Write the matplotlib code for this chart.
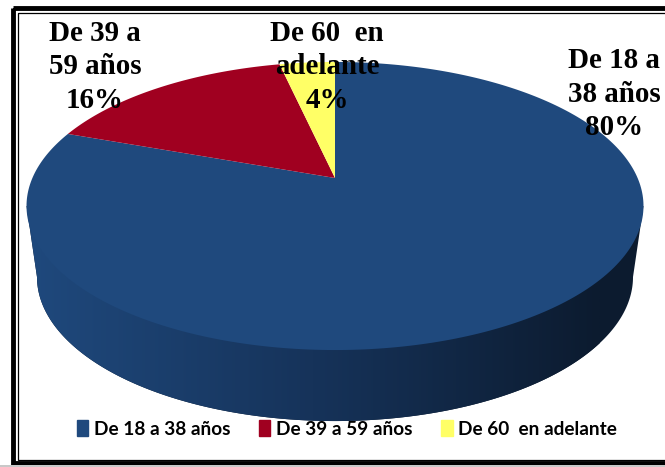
import numpy as np
import matplotlib
matplotlib.use("Agg")
import matplotlib.pyplot as plt
from matplotlib.colors import LinearSegmentedColormap
from matplotlib.patches import Patch, Polygon, Rectangle

categorias = ["De 18 a 38 años", "De 39 a 59 años", "De 60  en adelante"]
porcentajes = [80.5, 16, 3.5]
colores = ["#1f497d", "#a00020", "#ffff66"]
etiquetas = ["De 18 a\n38 años\n80%", "De 39 a\n59 años\n16%", "De 60  en\nadelante\n4%"]
pos_etiquetas = [(614, 94), (95, 67), (327, 67)]

CX, CY = 335, 178
RX, RY, K = 302.6, 138.6, 0.1944
ALTO = 71
ESCALA_BASE = 0.966


def proyectar(t, escala=1.0, dy=0):
    # t en radianes, sentido horario desde arriba, con algo de perspectiva
    u = np.sin(t)
    v = np.cos(t)
    s = 1 / (1 + K * v)
    return CX + RX * escala * u * s, CY + dy - RY * v * s


def dibujar_marco(ax):
    ax.add_patch(Rectangle((13, 8), 670, 455, fill=False, ec="black", lw=3.5, zorder=1))
    ax.add_patch(Rectangle((17.5, 12.5), 670, 447, fill=False, ec="black", lw=0.9, zorder=1))
    ax.add_patch(Rectangle((0, 465), 665, 2, fc="#c8c8c8", ec="none", zorder=1))


def dibujar_pared(ax):
    # el punto mas ancho del borde, ahi baja la pared
    t_ext = np.arccos(-K)
    t_base = np.linspace(t_ext, 2 * np.pi - t_ext, 300)
    x, y = proyectar(t_base, ESCALA_BASE, ALTO)
    xd, yd = proyectar(t_ext)
    xi, yi = proyectar(2 * np.pi - t_ext)
    borde = np.column_stack([np.r_[xd, x, xi], np.r_[yd, y, yi]])
    fondo = Polygon(borde, closed=True, fc="#0c1b2f", ec="none", zorder=1.5)
    ax.add_patch(fondo)
    cmap = LinearSegmentedColormap.from_list("pared", ["#1f497d", "#16335a", "#0c1b2f"])
    img = ax.imshow(np.linspace(0, 1, 256).reshape(1, -1), cmap=cmap, aspect="auto",
                    extent=(27, 600, 440, 190), zorder=2)
    img.set_clip_path(fondo)


def dibujar_tarta(ax):
    # empieza arriba, gira en sentido horario
    inicio = 0.0
    for valor, color in zip(porcentajes, colores):
        fin = inicio + valor / sum(porcentajes) * 2 * np.pi
        t = np.linspace(inicio, fin, 300)
        x, y = proyectar(t)
        ax.fill(np.r_[CX, x], np.r_[CY, y], color=color, lw=0, zorder=3)
        inicio = fin


fig = plt.figure(figsize=(6.65, 4.67), dpi=100)
ax = fig.add_axes([0, 0, 1, 1])
ax.set_xlim(0, 665)
ax.set_ylim(467, 0)
ax.axis("off")

dibujar_marco(ax)
dibujar_pared(ax)
dibujar_tarta(ax)
ax.set_xlim(0, 665)
ax.set_ylim(467, 0)

for texto, (x, y) in zip(etiquetas, pos_etiquetas):
    ax.text(x, y, texto, family="Liberation Serif", weight="bold", fontsize=20.9,
            ha="center", va="center", linespacing=1.29, color="black", zorder=5)

manejadores = [Patch(color=c, label=n) for c, n in zip(colores, categorias)]
ax.legend(handles=manejadores, loc="center", bbox_to_anchor=(347, 429),
          bbox_transform=ax.transData, ncol=3, frameon=False, columnspacing=1.5,
          handlelength=0.6, handleheight=0.9, handletextpad=0.3, borderpad=0,
          prop={"family": "Lato", "weight": "bold", "size": 13.7})

fig.savefig("out.png", dpi=100)
